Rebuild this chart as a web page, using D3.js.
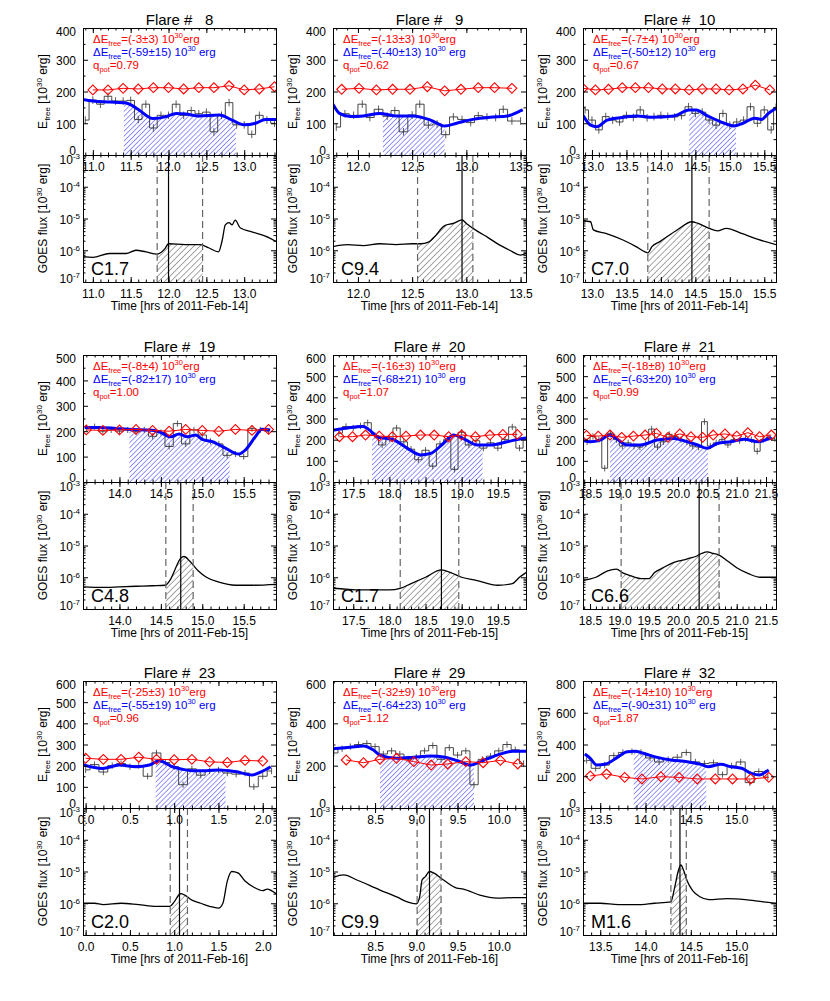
<!DOCTYPE html>
<html>
<head>
<meta charset="utf-8">
<script src="https://cdn.jsdelivr.net/npm/d3@7"></script>
<style>
  body { margin: 0; background: #fff; }
  svg { font-family: "Liberation Sans", Arial, Helvetica, sans-serif; }
</style>
</head>
<body>
<svg id="chart" width="830" height="1001"></svg>
<script>
// ---- data ----
const flareIds = [8, 9, 10, 19, 20, 21, 23, 29, 32];
const flareDays = ['14', '14', '14', '15', '15', '15', '16', '16', '16'];
const goesClass = ['C1.7', 'C9.4', 'C7.0', 'C4.8', 'C1.7', 'C6.6', 'C2.0', 'C9.9', 'M1.6'];
const timeRange = [[10.87, 13.42], [11.77, 13.55], [12.87, 15.67], [13.56, 15.89], [17.22, 19.89],
  [18.38, 21.67], [-0.03, 2.15], [7.99, 10.33], [13.31, 15.44]];
const timeTicks = [[11, 11.5, 12, 12.5, 13], [12, 12.5, 13, 13.5], [13, 13.5, 14, 14.5, 15, 15.5],
  [14, 14.5, 15, 15.5], [17.5, 18, 18.5, 19, 19.5], [18.5, 19, 19.5, 20, 20.5, 21, 21.5],
  [0, 0.5, 1, 1.5, 2], [8.5, 9, 9.5, 10], [13.5, 14, 14.5, 15]];
const energyMax = [400, 400, 400, 500, 600, 600, 600, 600, 800];
const energyStep = [100, 100, 100, 100, 100, 100, 100, 200, 200];
const dEred = ['-3±3', '-13±3', '-7±4', '-8±4', '-16±3', '-18±8', '-25±3', '-32±9', '-14±10'];
const dEblue = ['-59±15', '-40±13', '-50±12', '-82±17', '-68±21', '-63±20', '-55±19', '-64±23', '-90±31'];
const qpot = ['0.79', '0.62', '0.67', '1.00', '1.07', '0.99', '0.96', '1.12', '1.87'];
const flareStart = [11.85, 12.55, 13.81, 14.56, 18.15, 19.03, 0.955, 9.01, 14.28];
const flarePeak = [12.0, 12.96, 14.45, 14.74, 18.72, 20.36, 1.06, 9.16, 14.38];
const flareEnd = [12.45, 13.06, 14.7, 14.89, 18.96, 20.7, 1.15, 9.3, 14.45];
const hatchFrom = [11.41, 12.23, 14.41, 14.12, 17.76, 18.84, 0.79, 8.56, 13.87];
const hatchTo = [12.89, 12.8, 15.09, 15.33, 19.29, 20.51, 1.58, 9.7, 14.67];
const errBar = [12, 12, 12, 12, 15, 15, 15, 15, 20];

// potential-field energy (red diamonds)
const red8 = [[11.0, 205], [11.2, 205], [11.4, 210], [11.6, 208], [11.8, 212], [12.0, 212], [12.2, 208], [12.4, 212], [12.6, 212], [12.8, 218], [13.0, 205], [13.2, 208], [13.4, 215]];
const red9 = [[11.85, 207], [12.01, 210], [12.17, 205], [12.32, 207], [12.48, 207], [12.64, 215], [12.80, 202], [12.95, 207], [13.11, 212], [13.26, 212], [13.42, 210]];
const red10 = [[12.87, 210], [13.05, 205], [13.24, 207], [13.44, 212], [13.63, 212], [13.82, 212], [14.02, 208], [14.21, 208], [14.41, 205], [14.6, 208], [14.8, 208], [14.99, 205], [15.19, 208], [15.37, 220], [15.58, 205]];
const red19 = [[13.6, 205], [13.8, 203], [14.0, 205], [14.2, 207], [14.4, 203], [14.6, 200], [14.8, 207], [15.0, 203], [15.2, 200], [15.4, 207], [15.6, 203], [15.8, 207]];
const red20 = [[17.31, 214], [17.49, 214], [17.67, 222], [17.86, 217], [18.04, 214], [18.23, 217], [18.43, 222], [18.62, 222], [18.82, 214], [19.0, 222], [19.19, 214], [19.39, 222], [19.57, 225], [19.77, 225]];
const red21 = [[18.44, 220], [18.64, 217], [18.84, 222], [19.04, 211], [19.24, 217], [19.44, 222], [19.63, 230], [19.83, 211], [20.03, 227], [20.22, 214], [20.42, 211], [20.6, 222], [20.8, 227], [21.0, 217], [21.19, 233], [21.39, 214], [21.59, 222]];
const red23 = [[0.0, 235], [0.2, 230], [0.4, 230], [0.6, 240], [0.8, 230], [1.0, 228], [1.2, 230], [1.4, 218], [1.6, 215], [1.8, 225], [2.0, 222]];
const red29 = [[8.15, 227], [8.36, 214], [8.56, 230], [8.76, 235], [8.97, 219], [9.18, 203], [9.38, 208], [9.6, 219], [9.81, 214], [10.02, 225], [10.23, 208]];
const red32 = [[13.39, 202], [13.57, 214], [13.77, 193], [13.96, 183], [14.17, 197], [14.37, 193], [14.57, 183], [14.77, 183], [14.96, 183], [15.16, 183], [15.36, 193]];

// smoothed free energy (blue)
const blue8 = [[10.86, 175], [11.0, 170], [11.22, 167], [11.44, 164], [11.51, 157], [11.61, 142], [11.79, 115], [11.97, 121], [12.1, 131], [12.23, 129], [12.4, 123], [12.67, 126], [12.84, 110], [13.0, 95], [13.15, 100], [13.28, 112], [13.42, 112]];
const blue9 = [[11.77, 160], [11.83, 131], [11.93, 121], [12.05, 123], [12.2, 131], [12.36, 123], [12.51, 123], [12.67, 110], [12.8, 91], [12.91, 100], [13.07, 113], [13.22, 119], [13.38, 123], [13.48, 136], [13.52, 142]];
const blue10 = [[12.87, 125], [12.98, 94], [13.07, 89], [13.22, 110], [13.46, 119], [13.66, 123], [13.85, 119], [14.19, 123], [14.41, 142], [14.51, 142], [14.68, 123], [14.92, 100], [15.06, 91], [15.19, 100], [15.36, 116], [15.46, 112], [15.56, 131], [15.67, 147]];
const blue19 = [[13.58, 215], [13.76, 215], [13.96, 211], [14.16, 207], [14.36, 205], [14.48, 198], [14.62, 178], [14.72, 189], [14.82, 178], [14.92, 185], [15.0, 168], [15.12, 159], [15.28, 133], [15.44, 110], [15.52, 126], [15.64, 178], [15.72, 208], [15.82, 205]];
const blue20 = [[17.22, 245], [17.3, 249], [17.46, 258], [17.64, 262], [17.71, 249], [17.85, 211], [18.04, 202], [18.25, 159], [18.43, 128], [18.57, 135], [18.75, 183], [18.89, 222], [19.03, 204], [19.22, 175], [19.4, 175], [19.63, 190], [19.84, 206], [19.89, 208]];
const blue21 = [[18.4, 195], [18.5, 190], [18.67, 198], [18.84, 222], [18.96, 203], [19.13, 175], [19.36, 175], [19.64, 198], [19.93, 206], [20.16, 190], [20.33, 175], [20.5, 159], [20.67, 182], [20.9, 190], [21.13, 202], [21.36, 190], [21.59, 211]];
const blue23 = [[-0.03, 205], [0.19, 187], [0.38, 203], [0.57, 195], [0.72, 203], [0.83, 223], [0.98, 195], [1.09, 183], [1.21, 176], [1.36, 176], [1.51, 180], [1.69, 172], [1.88, 156], [1.99, 172], [2.09, 195]];
const blue29 = [[7.99, 280], [8.2, 287], [8.36, 293], [8.48, 274], [8.56, 250], [8.76, 235], [8.97, 240], [9.17, 246], [9.35, 240], [9.5, 223], [9.66, 203], [9.78, 219], [9.98, 250], [10.17, 268], [10.33, 268]];
const blue32 = [[13.33, 340], [13.39, 313], [13.46, 271], [13.56, 277], [13.69, 319], [13.8, 355], [13.89, 357], [14.0, 340], [14.13, 319], [14.28, 302], [14.46, 292], [14.61, 275], [14.69, 260], [14.83, 275], [14.94, 260], [15.06, 250], [15.17, 218], [15.26, 208], [15.33, 229], [15.36, 240]];

// binned free energy (black histogram)
const step8 = [[10.9, 110], [11.0, 173], [11.1, 160], [11.2, 185], [11.3, 170], [11.4, 170], [11.5, 172], [11.6, 112], [11.7, 160], [11.8, 85], [11.9, 125], [12.0, 125], [12.1, 160], [12.2, 125], [12.3, 140], [12.4, 130], [12.5, 135], [12.6, 73], [12.7, 125], [12.8, 165], [12.9, 95], [13.0, 95], [13.1, 65], [13.2, 125], [13.3, 110], [13.4, 100]];
const step9 = [[11.80, 88], [11.88, 130], [11.96, 125], [12.04, 160], [12.11, 118], [12.19, 144], [12.27, 122], [12.34, 140], [12.42, 73], [12.50, 126], [12.57, 160], [12.65, 94], [12.73, 98], [12.81, 64], [12.88, 120], [12.96, 112], [13.04, 102], [13.11, 124], [13.19, 120], [13.27, 118], [13.34, 144], [13.42, 107], [13.50, 107]];
const step10 = [[12.9, 142], [13.0, 110], [13.1, 79], [13.2, 121], [13.3, 110], [13.4, 104], [13.5, 125], [13.6, 118], [13.7, 142], [13.8, 117], [13.9, 121], [14.0, 125], [14.1, 122], [14.2, 120], [14.3, 124], [14.4, 152], [14.5, 131], [14.6, 135], [14.7, 110], [14.8, 94], [14.9, 131], [15.0, 94], [15.1, 104], [15.2, 110], [15.3, 152], [15.4, 100], [15.5, 142], [15.6, 79], [15.67, 150]];
const step19 = [[13.6, 212], [13.7, 218], [13.8, 200], [13.9, 205], [14.0, 200], [14.1, 205], [14.2, 198], [14.3, 205], [14.4, 180], [14.5, 195], [14.6, 140], [14.7, 230], [14.8, 150], [14.9, 205], [15.0, 185], [15.1, 160], [15.2, 150], [15.3, 105], [15.4, 110], [15.5, 100], [15.6, 210], [15.7, 205], [15.8, 200]];
const step20 = [[17.3, 230], [17.4, 262], [17.5, 255], [17.6, 265], [17.7, 280], [17.8, 220], [17.9, 175], [18.0, 205], [18.1, 255], [18.2, 190], [18.3, 155], [18.4, 105], [18.5, 150], [18.6, 75], [18.7, 180], [18.8, 200], [18.9, 60], [19.0, 235], [19.1, 175], [19.2, 195], [19.3, 160], [19.4, 185], [19.5, 160], [19.6, 200], [19.7, 260], [19.8, 160], [19.9, 200]];
const step21 = [[18.45, 190], [18.55, 215], [18.65, 200], [18.75, 65], [18.85, 230], [18.95, 200], [19.05, 170], [19.15, 185], [19.25, 170], [19.35, 165], [19.45, 180], [19.55, 250], [19.65, 165], [19.75, 190], [19.85, 225], [19.95, 215], [20.05, 200], [20.15, 190], [20.25, 170], [20.35, 165], [20.45, 285], [20.55, 170], [20.65, 185], [20.75, 200], [20.85, 175], [20.95, 200], [21.05, 195], [21.15, 205], [21.25, 200], [21.35, 145], [21.45, 200], [21.55, 210], [21.65, 205]];
const step23 = [[0.0, 180], [0.1, 205], [0.2, 170], [0.3, 200], [0.4, 210], [0.5, 195], [0.6, 200], [0.7, 150], [0.8, 260], [0.9, 215], [1.0, 195], [1.1, 110], [1.2, 185], [1.3, 155], [1.4, 175], [1.5, 180], [1.6, 165], [1.7, 160], [1.8, 165], [1.9, 100], [2.0, 150], [2.1, 175]];
const step29 = [[8.0, 260], [8.1, 280], [8.2, 290], [8.3, 300], [8.4, 305], [8.5, 290], [8.6, 255], [8.7, 270], [8.8, 255], [8.9, 230], [9.0, 240], [9.1, 270], [9.2, 295], [9.3, 230], [9.4, 285], [9.5, 250], [9.6, 270], [9.7, 110], [9.8, 230], [9.9, 245], [10.0, 270], [10.1, 300], [10.2, 275], [10.3, 210]];
const step32 = [[13.35, 300], [13.45, 250], [13.55, 270], [13.65, 330], [13.75, 350], [13.85, 355], [13.95, 350], [14.05, 315], [14.15, 290], [14.25, 305], [14.35, 320], [14.45, 350], [14.55, 290], [14.65, 280], [14.75, 285], [14.85, 210], [14.95, 265], [15.05, 290], [15.15, 160], [15.25, 230], [15.35, 195]];

// GOES 1-8 A flux
const goes8 = [[10.87, 6.3e-7], [11.0, 6.0e-7], [11.22, 7.9e-7], [11.44, 7.9e-7], [11.57, 1.0e-6], [11.7, 8.9e-7], [11.85, 7.6e-7], [11.95, 1.1e-6], [12.0, 1.6e-6], [12.22, 1.5e-6], [12.42, 1.5e-6], [12.53, 1.2e-6], [12.66, 8.9e-7], [12.71, 2.1e-6], [12.75, 6.3e-6], [12.8, 7.4e-6], [12.84, 6.3e-6], [12.88, 8.9e-6], [12.95, 5.0e-6], [13.1, 3.8e-6], [13.28, 2.8e-6], [13.42, 1.9e-6]];
const goes9 = [[11.77, 1.3e-6], [11.9, 1.5e-6], [12.05, 1.4e-6], [12.2, 1.6e-6], [12.35, 1.5e-6], [12.5, 1.6e-6], [12.58, 1.6e-6], [12.65, 1.8e-6], [12.72, 3e-6], [12.8, 6e-6], [12.88, 7e-6], [12.96, 9e-6], [13.0, 7e-6], [13.1, 4e-6], [13.2, 2.5e-6], [13.3, 1.5e-6], [13.4, 1e-6], [13.5, 7e-7], [13.55, 8e-7]];
const goes10 = [[12.87, 8.5e-6], [12.98, 7.9e-6], [13.02, 4.4e-6], [13.2, 3.4e-6], [13.45, 2.1e-6], [13.64, 1.3e-6], [13.77, 8.9e-7], [13.81, 8.3e-7], [13.87, 1.3e-6], [13.99, 1.9e-6], [14.24, 4.4e-6], [14.45, 7.9e-6], [14.53, 7.1e-6], [14.7, 4.9e-6], [14.82, 4.1e-6], [14.95, 4.9e-6], [15.17, 3.4e-6], [15.41, 2.2e-6], [15.67, 1.5e-6]];
const goes19 = [[13.56, 5e-7], [13.8, 4.8e-7], [14.0, 5e-7], [14.2, 5.2e-7], [14.4, 5.4e-7], [14.55, 5.6e-7], [14.62, 8.9e-7], [14.68, 2e-6], [14.74, 4e-6], [14.78, 4.5e-6], [14.85, 3.2e-6], [14.95, 1.6e-6], [15.05, 1e-6], [15.2, 7e-7], [15.4, 5.6e-7], [15.6, 5.6e-7], [15.89, 6e-7]];
const goes20 = [[17.22, 4.5e-7], [17.4, 4.2e-7], [17.6, 4e-7], [17.8, 4e-7], [18.0, 4e-7], [18.15, 4.5e-7], [18.3, 6.3e-7], [18.5, 1e-6], [18.72, 1.7e-6], [18.85, 1.4e-6], [19.0, 1.0e-6], [19.2, 8e-7], [19.5, 5.6e-7], [19.7, 6.3e-7], [19.8, 1e-6], [19.89, 1.4e-6]];
const goes21 = [[18.38, 8e-7], [18.6, 1e-6], [18.8, 1.6e-6], [18.95, 1.8e-6], [19.05, 1.4e-6], [19.2, 1.1e-6], [19.4, 9e-7], [19.5, 9e-7], [19.6, 1.4e-6], [19.75, 2e-6], [19.9, 2.8e-6], [20.0, 3.2e-6], [20.1, 3.5e-6], [20.2, 4e-6], [20.3, 4.5e-6], [20.4, 5.6e-6], [20.5, 6.3e-6], [20.6, 5.6e-6], [20.7, 5e-6], [20.85, 3.2e-6], [21.0, 2e-6], [21.2, 1.3e-6], [21.4, 1e-6], [21.67, 1e-6]];
const goes23 = [[-0.03, 1.0e-6], [0.1, 1.0e-6], [0.2, 9e-7], [0.4, 1.0e-6], [0.6, 9e-7], [0.8, 8e-7], [0.95, 8e-7], [1.0, 1.1e-6], [1.07, 2e-6], [1.12, 1.8e-6], [1.2, 1.25e-6], [1.3, 1.0e-6], [1.4, 8e-7], [1.5, 7e-7], [1.55, 1.0e-6], [1.6, 5e-6], [1.65, 1.0e-5], [1.72, 9e-6], [1.8, 5e-6], [1.9, 3.2e-6], [2.0, 2.5e-6], [2.05, 2.8e-6], [2.15, 2.0e-6]];
const goes29 = [[7.99, 6.5e-6], [8.12, 7.8e-6], [8.28, 5.4e-6], [8.56, 2.6e-6], [8.77, 1.55e-6], [8.89, 1.1e-6], [9.0, 9.5e-7], [9.04, 1.55e-6], [9.07, 5.4e-6], [9.11, 6.9e-6], [9.16, 1.0e-5], [9.21, 9.0e-6], [9.33, 5.4e-6], [9.49, 3.0e-6], [9.57, 2.8e-6], [9.77, 1.8e-6], [9.98, 1.45e-6], [10.18, 1.5e-6], [10.33, 1.5e-6]];
const goes32 = [[13.31, 1.0e-6], [13.5, 1.0e-6], [13.7, 9e-7], [13.9, 9e-7], [14.1, 1.0e-6], [14.28, 1.1e-6], [14.32, 3e-6], [14.36, 1e-5], [14.39, 1.6e-5], [14.42, 1.1e-5], [14.46, 5e-6], [14.52, 2.5e-6], [14.6, 1.6e-6], [14.7, 1.3e-6], [14.9, 1.4e-6], [15.1, 1.3e-6], [15.3, 1.1e-6], [15.44, 1.0e-6]];

const redSeries = [red8, red9, red10, red19, red20, red21, red23, red29, red32];
const blueSeries = [blue8, blue9, blue10, blue19, blue20, blue21, blue23, blue29, blue32];
const stepSeries = [step8, step9, step10, step19, step20, step21, step23, step29, step32];
const goesSeries = [goes8, goes9, goes10, goes19, goes20, goes21, goes23, goes29, goes32];
const goesTicks = [1e-7, 1e-6, 1e-5, 1e-4, 1e-3];

// ---- layout ----
const colX = [83, 333, 583], rowY = [28, 355, 681];
const PW = 193, PH = 127;

const svg = d3.select('#chart');
const defs = svg.append('defs');

function hatch(id, color, gap, w) {
  defs.append('pattern').attr('id', id)
    .attr('patternUnits', 'userSpaceOnUse')
    .attr('width', gap).attr('height', gap)
    .attr('patternTransform', 'rotate(45)')
    .append('line').attr('x1', 0).attr('y1', 0).attr('x2', 0).attr('y2', gap)
    .attr('stroke', color).attr('stroke-width', w);
}
hatch('hBlue', '#2a2aff', 3.5, 1);
hatch('hBlack', '#333', 4.3, 0.85);

// text with sub/superscripts, parts = [[str, 'sub'|'sup'|null]]
function rich(sel, parts, small) {
  let cur = 0;
  parts.forEach(([s, k]) => {
    const off = k === 'sub' ? 3 : k === 'sup' ? -5 : 0;
    const ts = sel.append('tspan').attr('dy', off - cur).text(s);
    if (k) ts.attr('font-size', small);
    cur = off;
  });
}

function styleAxis(sel) {
  sel.attr('font-size', 12).attr('font-family', null);
  sel.selectAll('line, path').attr('stroke', '#000');
}

function timeAxes(g, x, top, bottom, ticks, withLabels) {
  const [d0, d1] = x.domain();
  const minor = d3.range(Math.ceil(d0 * 10 - 1e-9), Math.floor(d1 * 10 + 1e-9) + 1).map(k => k / 10);
  const blank = () => '';
  g.append('g').attr('transform', `translate(0,${bottom})`)
    .call(d3.axisBottom(x).tickValues(ticks).tickSize(-5).tickSizeOuter(0).tickPadding(7.5)
      .tickFormat(withLabels ? d3.format('.1f') : blank)).call(styleAxis);
  g.append('g').attr('transform', `translate(0,${bottom})`)
    .call(d3.axisBottom(x).tickValues(minor).tickSize(-2.5).tickSizeOuter(0).tickFormat(blank)).call(styleAxis);
  g.append('g').attr('transform', `translate(0,${top})`)
    .call(d3.axisTop(x).tickValues(ticks).tickSize(-5).tickSizeOuter(0).tickFormat(blank)).call(styleAxis);
  g.append('g').attr('transform', `translate(0,${top})`)
    .call(d3.axisTop(x).tickValues(minor).tickSize(-2.5).tickSizeOuter(0).tickFormat(blank)).call(styleAxis);
}

flareIds.forEach((id, i) => {
  const g = svg.append('g')
    .attr('transform', `translate(${colX[i % 3]},${rowY[Math.floor(i / 3)]})`);
  const x = d3.scaleLinear().domain(timeRange[i]).range([0, PW]);
  const yE = d3.scaleLinear().domain([0, energyMax[i]]).range([PH, 0]);
  const yG = d3.scaleLog().domain([1e-7, 1e-3]).range([2 * PH, PH]);

  const cu = 'cu' + i, cl = 'cl' + i, hu = 'hu' + i, hl = 'hl' + i;
  defs.append('clipPath').attr('id', cu).append('rect').attr('width', PW).attr('height', PH);
  defs.append('clipPath').attr('id', cl).append('rect').attr('y', PH).attr('width', PW).attr('height', PH);
  defs.append('clipPath').attr('id', hu).append('rect')
    .attr('x', x(hatchFrom[i])).attr('width', x(hatchTo[i]) - x(hatchFrom[i])).attr('height', PH);
  defs.append('clipPath').attr('id', hl).append('rect')
    .attr('x', x(flareStart[i])).attr('y', PH)
    .attr('width', x(flareEnd[i]) - x(flareStart[i])).attr('height', PH);

  // ---- upper panel: free energy ----
  const up = g.append('g').attr('clip-path', `url(#${cu})`);
  const blueLine = d3.line().x(d => x(d[0])).y(d => yE(d[1])).curve(d3.curveMonotoneX);
  const blueArea = d3.area().x(d => x(d[0])).y0(PH).y1(d => yE(d[1])).curve(d3.curveMonotoneX);

  up.append('path').datum(blueSeries[i]).attr('clip-path', `url(#${hu})`)
    .attr('d', blueArea).attr('fill', 'url(#hBlue)');

  up.append('path').datum(stepSeries[i])
    .attr('d', d3.line().x(d => x(d[0])).y(d => yE(d[1])).curve(d3.curveStep))
    .attr('fill', 'none').attr('stroke', '#333').attr('stroke-width', 0.9);
  up.selectAll('.err').data(stepSeries[i]).join('line')
    .attr('x1', d => x(d[0])).attr('x2', d => x(d[0]))
    .attr('y1', d => yE(d[1] - errBar[i])).attr('y2', d => yE(d[1] + errBar[i]))
    .attr('stroke', '#333').attr('stroke-width', 0.8);

  up.append('path').datum(blueSeries[i]).attr('d', blueLine)
    .attr('fill', 'none').attr('stroke', '#0000ff').attr('stroke-width', 3);

  up.append('path').datum(redSeries[i])
    .attr('d', d3.line().x(d => x(d[0])).y(d => yE(d[1])))
    .attr('fill', 'none').attr('stroke', '#ff0000').attr('stroke-width', 1);
  up.selectAll('.dia').data(redSeries[i]).join('path')
    .attr('d', d3.symbol(d3.symbolSquare, 48))
    .attr('transform', d => `translate(${x(d[0])},${yE(d[1])}) rotate(45)`)
    .attr('fill', 'none').attr('stroke', '#ff0000').attr('stroke-width', 1.1);

  // ---- lower panel: GOES flux ----
  const lo = g.append('g').attr('clip-path', `url(#${cl})`);
  lo.append('path').datum(goesSeries[i]).attr('clip-path', `url(#${hl})`)
    .attr('d', d3.area().x(d => x(d[0])).y0(2 * PH).y1(d => yG(d[1])).curve(d3.curveMonotoneX))
    .attr('fill', 'url(#hBlack)');
  lo.append('path').datum(goesSeries[i])
    .attr('d', d3.line().x(d => x(d[0])).y(d => yG(d[1])).curve(d3.curveMonotoneX))
    .attr('fill', 'none').attr('stroke', '#000').attr('stroke-width', 1.3);
  [flareStart[i], flareEnd[i]].forEach(t => {
    lo.append('line').attr('x1', x(t)).attr('x2', x(t)).attr('y1', PH).attr('y2', 2 * PH)
      .attr('stroke', '#666').attr('stroke-width', 1.2).attr('stroke-dasharray', '7,4');
  });
  lo.append('line').attr('x1', x(flarePeak[i])).attr('x2', x(flarePeak[i]))
    .attr('y1', PH).attr('y2', 2 * PH).attr('stroke', '#000').attr('stroke-width', 1.2);

  // ---- axes ----
  timeAxes(g, x, 0, PH, timeTicks[i], true);
  timeAxes(g, x, PH, 2 * PH, timeTicks[i], true);

  const eTicks = d3.range(0, energyMax[i] + 1, energyStep[i]);
  const eMinor = d3.range(energyStep[i] / 2, energyMax[i], energyStep[i]);
  g.append('g').call(d3.axisLeft(yE).tickValues(eTicks).tickSize(-5).tickSizeOuter(0).tickPadding(7)
      .tickFormat(d3.format('d'))).call(styleAxis)
    .selectAll('.tick text').attr('y', d => d === energyMax[i] ? 4 : d === 0 ? -4 : 1);
  g.append('g').call(d3.axisLeft(yE).tickValues(eMinor).tickSize(-2.5).tickSizeOuter(0).tickFormat(() => '')).call(styleAxis);
  g.append('g').attr('transform', `translate(${PW},0)`)
    .call(d3.axisRight(yE).tickValues(eTicks).tickSize(-5).tickSizeOuter(0).tickFormat(() => '')).call(styleAxis);
  g.append('g').attr('transform', `translate(${PW},0)`)
    .call(d3.axisRight(yE).tickValues(eMinor).tickSize(-2.5).tickSizeOuter(0).tickFormat(() => '')).call(styleAxis);

  const gMinor = yG.ticks().filter(v => !goesTicks.some(t => Math.abs(v / t - 1) < 1e-6));
  const gl = g.append('g').call(d3.axisLeft(yG).tickValues(goesTicks).tickSize(-5).tickSizeOuter(0).tickPadding(3)
    .tickFormat(() => '')).call(styleAxis);
  gl.selectAll('.tick text').each(function (d) {
    const t = d3.select(this);
    t.attr('y', d === 1e-3 ? 5 : d === 1e-7 ? -3 : 1);
    t.append('tspan').text('10');
    t.append('tspan').attr('dy', -5).attr('font-size', 8).text(Math.round(Math.log10(d)));
  });
  g.append('g').call(d3.axisLeft(yG).tickValues(gMinor).tickSize(-2.5).tickSizeOuter(0).tickFormat(() => '')).call(styleAxis);
  g.append('g').attr('transform', `translate(${PW},0)`)
    .call(d3.axisRight(yG).tickValues(goesTicks).tickSize(-5).tickSizeOuter(0).tickFormat(() => '')).call(styleAxis);
  g.append('g').attr('transform', `translate(${PW},0)`)
    .call(d3.axisRight(yG).tickValues(gMinor).tickSize(-2.5).tickSizeOuter(0).tickFormat(() => '')).call(styleAxis);

  // ---- texts ----
  g.append('text').attr('x', PW / 2).attr('y', -3.5).attr('text-anchor', 'middle')
    .attr('font-size', 15).style('white-space', 'pre')
    .text('Flare # ' + String(id).padStart(3, ' '));

  const tr = g.append('text').attr('x', 10).attr('y', 15).attr('font-size', 11.5).attr('fill', '#ff0000');
  rich(tr, [['ΔE'], ['free', 'sub'], ['=(' + dEred[i] + ') 10'], ['30', 'sup'], ['erg']], 7.5);
  const tb = g.append('text').attr('x', 10).attr('y', 28).attr('font-size', 11.5).attr('fill', '#0000ff');
  rich(tb, [['ΔE'], ['free', 'sub'], ['=(' + dEblue[i] + ') 10'], ['30', 'sup'], [' erg']], 7.5);
  const tq = g.append('text').attr('x', 10).attr('y', 41).attr('font-size', 11.5).attr('fill', '#ff0000');
  rich(tq, [['q'], ['pot', 'sub'], ['=' + qpot[i]]], 7.5);

  const ey = g.append('text').attr('transform', `translate(-36,${PH / 2}) rotate(-90)`)
    .attr('text-anchor', 'middle').attr('font-size', 12);
  rich(ey, [['E'], ['free', 'sub'], [' [10'], ['30', 'sup'], [' erg]']], 8);
  const gy = g.append('text').attr('transform', `translate(-36,${PH * 1.5}) rotate(-90)`)
    .attr('text-anchor', 'middle').attr('font-size', 12);
  rich(gy, [['GOES flux [10'], ['30', 'sup'], [' erg]']], 8);

  g.append('text').attr('x', PW / 2).attr('y', 2 * PH + 27.5).attr('text-anchor', 'middle')
    .attr('font-size', 12).text('Time [hrs of 2011-Feb-' + flareDays[i] + ']');

  g.append('text').attr('x', 8).attr('y', 2 * PH - 7).attr('font-size', 18).text(goesClass[i]);
});
</script>
</body>
</html>
